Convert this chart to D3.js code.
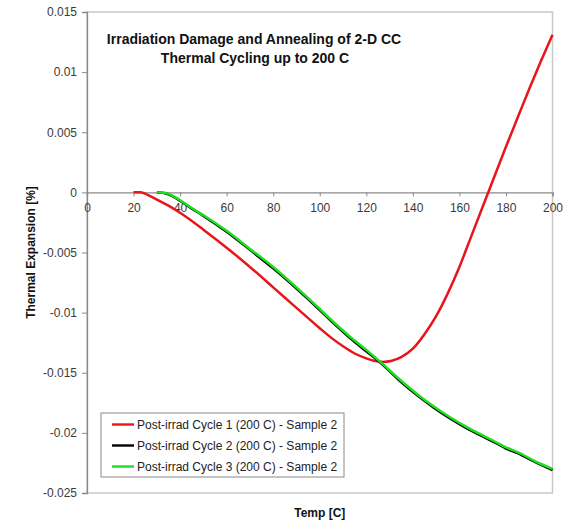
<!DOCTYPE html>
<html>
<head>
<meta charset="utf-8">
<script src="https://cdn.jsdelivr.net/npm/d3@7"></script>
<style>
  body { margin: 0; background: #fff; }
  svg { display: block; font-family: Arial, "Liberation Sans", sans-serif; }
</style>
</head>
<body>
<svg id="chart"></svg>
<script>
let width = 571;
let height = 523;

// data (temperature in C, expansion in %)
let cycle1Temp = [20, 23, 26, 30, 35, 40, 50, 60, 70, 80, 90, 100, 105, 110, 115, 120, 124, 127, 131, 135, 140, 145, 150, 155, 160, 165, 170, 175, 180, 185, 190, 195, 200];
let cycle1Exp = [0, 0.00002, -0.0002, -0.0006, -0.0011, -0.0017, -0.0031, -0.0046, -0.0062, -0.0079, -0.0096, -0.0113, -0.0121, -0.0128, -0.0134, -0.0138, -0.01403, -0.0141, -0.0140, -0.0137, -0.0130, -0.0118, -0.0103, -0.0084, -0.0062, -0.0037, -0.0012, 0.0013, 0.0038, 0.0062, 0.0086, 0.0109, 0.0131];

let cycle2Temp = [30, 33, 36, 40, 45, 50, 60, 70, 80, 90, 100, 106, 113, 120, 126, 134, 142, 149, 156, 163, 170, 176, 180, 185, 192, 200];
let cycle2Exp = [0, -0.00005, -0.00025, -0.0007, -0.00135, -0.00195, -0.00328, -0.00478, -0.00632, -0.008, -0.00978, -0.0109, -0.01212, -0.01322, -0.01415, -0.0156, -0.0169, -0.0179, -0.0188, -0.0196, -0.0203, -0.02088, -0.0213, -0.02168, -0.02238, -0.0231];

let cycle3Temp = [30, 33, 36, 40, 45, 50, 60, 70, 80, 90, 100, 106, 113, 120, 126, 134, 142, 149, 156, 163, 170, 176, 180, 185, 192, 200];
let cycle3Exp = [0, -0.00003, -0.0002, -0.00065, -0.0013, -0.0019, -0.0032, -0.0047, -0.0062, -0.0079, -0.0097, -0.0108, -0.0120, -0.0131, -0.0141, -0.0155, -0.0168, -0.0178, -0.0187, -0.0195, -0.0202, -0.0208, -0.0212, -0.0216, -0.0223, -0.0230];

let seriesNames = ['Post-irrad Cycle 1 (200 C) - Sample 2', 'Post-irrad Cycle 2 (200 C) - Sample 2', 'Post-irrad Cycle 3 (200 C) - Sample 2'];
let seriesColors = ['#e8151b', '#000000', '#1ee01e'];

let xTicks = [0, 20, 40, 60, 80, 100, 120, 140, 160, 180, 200];
let yTicks = [0.015, 0.01, 0.005, 0, -0.005, -0.01, -0.015, -0.02, -0.025];

let plotLeft = 87, plotRight = 552.5, plotTop = 12, plotBottom = 493;

let svg = d3.select('#chart').attr('width', width).attr('height', height);

let xScale = d3.scaleLinear().domain([0, 200]).range([plotLeft, plotRight]);
let yScale = d3.scaleLinear().domain([-0.025, 0.015]).range([plotBottom, plotTop]);

// plot frame
svg.append('rect')
   .attr('x', plotLeft).attr('y', plotTop)
   .attr('width', plotRight - plotLeft).attr('height', plotBottom - plotTop)
   .attr('fill', '#fff').attr('stroke', '#c8c8c8').attr('stroke-width', 1.5);

// y axis
let yAxis = d3.axisLeft(yScale).tickValues(yTicks).tickSize(5).tickPadding(5)
              .tickFormat(d => String(+d.toFixed(3)));
let yg = svg.append('g').attr('transform', 'translate(' + plotLeft + ',0)').call(yAxis);
yg.select('.domain').attr('stroke', '#8a8a8a').attr('stroke-width', 1.3);
yg.selectAll('.tick line').attr('stroke', '#8a8a8a');
yg.selectAll('.tick text').attr('fill', '#3a3a3a').style('font-size', '12px').style('font-family', 'Arial, "Liberation Sans", sans-serif');

// x axis through zero
let xAxis = d3.axisBottom(xScale).tickValues(xTicks).tickSize(4).tickPadding(7)
              .tickFormat(d3.format('d'));
let xg = svg.append('g').attr('transform', 'translate(0,' + yScale(0) + ')').call(xAxis);
xg.select('.domain').attr('stroke', '#8a8a8a').attr('stroke-width', 1.3);
xg.selectAll('.tick line').attr('stroke', '#8a8a8a');
xg.selectAll('.tick text').attr('fill', '#3a3a3a').style('font-size', '12px').style('font-family', 'Arial, "Liberation Sans", sans-serif');

// lines
let line = d3.line()
  .x(d => xScale(d[0]))
  .y(d => yScale(d[1]))
  .curve(d3.curveMonotoneX);

let series = [
  d3.zip(cycle1Temp, cycle1Exp),
  d3.zip(cycle2Temp, cycle2Exp),
  d3.zip(cycle3Temp, cycle3Exp)
];

series.forEach((s, i) => {
  svg.append('path')
     .datum(s)
     .attr('d', line)
     .attr('fill', 'none')
     .attr('stroke', seriesColors[i])
     .attr('stroke-width', 2.5);
});

// title
let title = svg.append('text').attr('text-anchor', 'middle')
   .style('font-weight', 'bold').style('font-size', '14px').attr('fill', '#111');
title.append('tspan').attr('x', 254).attr('y', 44).text('Irradiation Damage and Annealing of 2-D CC');
title.append('tspan').attr('x', 255).attr('y', 63).text('Thermal Cycling up to 200 C');

// axis titles
svg.append('text')
   .attr('transform', 'translate(35,' + ((plotTop + plotBottom) / 2) + ') rotate(-90)')
   .attr('text-anchor', 'middle')
   .style('font-weight', 'bold').style('font-size', '12px').attr('fill', '#111')
   .text('Thermal Expansion [%]');

svg.append('text')
   .attr('x', (plotLeft + plotRight) / 2).attr('y', 517)
   .attr('text-anchor', 'middle')
   .style('font-weight', 'bold').style('font-size', '12px').attr('fill', '#111')
   .text('Temp [C]');

// legend
let legend = svg.append('g');
legend.append('rect')
   .attr('x', 101).attr('y', 413).attr('width', 243).attr('height', 64)
   .attr('fill', '#fff').attr('stroke', '#8a8a8a').attr('stroke-width', 1);

seriesNames.forEach((name, i) => {
  let cy = 424.5 + i * 21;
  legend.append('line')
     .attr('x1', 112).attr('x2', 134).attr('y1', cy).attr('y2', cy)
     .attr('stroke', seriesColors[i]).attr('stroke-width', 2.4);
  legend.append('text')
     .attr('x', 137).attr('y', cy + 4.5)
     .style('font-size', '12px').attr('fill', '#222')
     .text(name);
});
</script>
</body>
</html>
